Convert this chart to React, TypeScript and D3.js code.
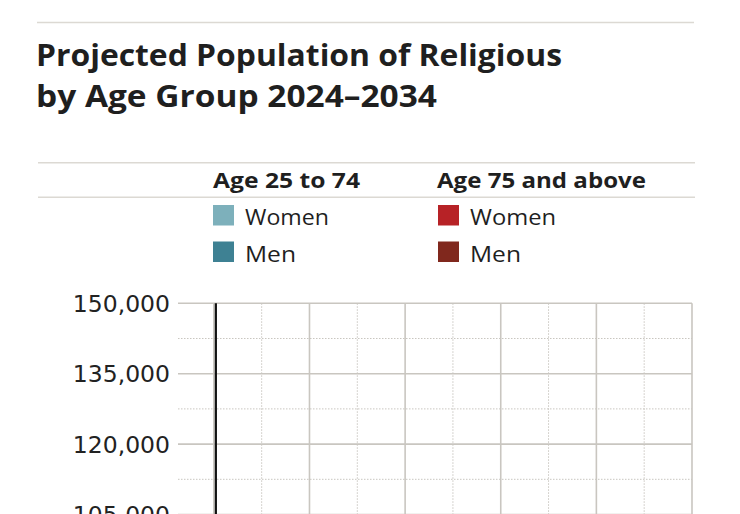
import React from "react";
import * as d3 from "d3";

const titleLines = ["Projected Population of Religious", "by Age Group 2024–2034"];
const years = [2024, 2025, 2026, 2027, 2028, 2029, 2030, 2031, 2032, 2033, 2034];
const womenYoung = [31000, 30200, 29400, 28500, 27700, 26900, 26100, 25300, 24600, 23900, 23200];
const menYoung = [19500, 19100, 18700, 18300, 17900, 17500, 17100, 16700, 16300, 15900, 15500];
const womenOld = [34000, 33600, 33100, 32500, 31900, 31200, 30500, 29800, 29100, 28400, 27700];
const menOld = [9800, 9700, 9600, 9500, 9400, 9300, 9200, 9100, 9000, 8900, 8800];
const yTicks = [0, 15000, 30000, 45000, 60000, 75000, 90000, 105000, 120000, 135000, 150000];
const groupTitles = ["Age 25 to 74", "Age 75 and above"];
const seriesKeys = ["womenYoung", "menYoung", "womenOld", "menOld"];
const seriesLabels = ["Women", "Men", "Women", "Men"];
const seriesColors = ["#7db0bb", "#3e8193", "#b72226", "#80281d"];

const titleWidths = [526, 401];
const groupWidths = [147, 209];
const labelWidths = [84, 51, 86, 51];

export default function App() {
  const W = 740, H = 514;
  const left = 178, right = 692, top = 303.3;
  const x = d3.scaleLinear().domain([2023.25, 2034]).range([left, right]);
  const y = d3.scaleLinear().domain([0, 150000]).range([top + 10 * 70.4, top]);
  const rows = years.map((yr, i) => ({
    year: yr,
    womenYoung: womenYoung[i],
    menYoung: menYoung[i],
    womenOld: womenOld[i],
    menOld: menOld[i],
  }));
  const stack = d3.stack<any>().keys(seriesKeys)(rows);
  const area = d3
    .area<any>()
    .x((d) => x(d.data.year))
    .y0((d) => y(d[0]))
    .y1((d) => y(d[1]));
  const minorY = yTicks.slice(0, -1).map((t) => t + 7500);
  const grey = "#c9c6c0";
  const textFont = "'Open Sans', Lato, sans-serif";
  const numFont = "'DejaVu Sans', Verdana, sans-serif";
  return (
    <svg
      width={W}
      height={H}
      style={{ position: "absolute", left: 0, top: 0, background: "#fff" }}
      fontFamily={textFont}
    >
      <rect width={W} height={H} fill="#fff" />
      <line x1={37} x2={694} y1={22.5} y2={22.5} stroke="#dcd9d3" strokeWidth={1.5} />
      {titleLines.map((t, i) => (
        <text
          key={t}
          x={36}
          y={66 + i * 41}
          fontSize={30}
          fontWeight={700}
          fill="#1f1f1f"
          textLength={titleWidths[i]}
          lengthAdjust="spacingAndGlyphs"
        >
          {t}
        </text>
      ))}
      <line x1={38} x2={695} y1={162.7} y2={162.7} stroke="#dcd9d3" strokeWidth={1.5} />
      <line x1={38} x2={695} y1={197.3} y2={197.3} stroke="#dcd9d3" strokeWidth={1.5} />
      {groupTitles.map((g, gi) => (
        <text
          key={g}
          x={213 + gi * 224}
          y={188}
          fontSize={21}
          fontWeight={700}
          fill="#1f1f1f"
          textLength={groupWidths[gi]}
          lengthAdjust="spacingAndGlyphs"
        >
          {g}
        </text>
      ))}
      {seriesKeys.map((k, i) => {
        const gx = 213 + Math.floor(i / 2) * 225;
        const gy = 205 + (i % 2) * 36.5;
        return (
          <g key={k}>
            <rect x={gx} y={gy} width={21} height={20.5} fill={seriesColors[i]} />
            <text
              x={gx + 32}
              y={gy + 20}
              fontSize={22}
              fill="#1f1f1f"
              textLength={labelWidths[i]}
              lengthAdjust="spacingAndGlyphs"
            >
              {seriesLabels[i]}
            </text>
          </g>
        );
      })}
      {minorY.map((t) => (
        <line key={"my" + t} x1={left} x2={right} y1={y(t)} y2={y(t)} stroke={grey} strokeWidth={1} strokeDasharray="1.5,1.5" />
      ))}
      {years.map((yr) => (
        <line
          key={"vx" + yr}
          x1={x(yr)}
          x2={x(yr)}
          y1={top}
          y2={y(0)}
          stroke={grey}
          strokeWidth={yr % 2 === 0 ? 1.6 : 1}
          strokeDasharray={yr % 2 === 0 ? undefined : "1.5,1.5"}
        />
      ))}
      {yTicks.map((t) => (
        <g key={"yt" + t}>
          <line x1={left} x2={right} y1={y(t)} y2={y(t)} stroke={grey} strokeWidth={1.6} />
          <text x={170} y={y(t)} dy="0.36em" textAnchor="end" fontFamily={numFont} fontSize={23.5} fill="#222">
            {d3.format(",")(t)}
          </text>
        </g>
      ))}
      {stack.map((s, i) => (
        <path key={seriesKeys[i]} d={area(s) || ""} fill={seriesColors[i]} />
      ))}
      <line x1={x(2024) + 2} x2={x(2024) + 2} y1={top} y2={y(0)} stroke="#111" strokeWidth={2.2} />
    </svg>
  );
}
